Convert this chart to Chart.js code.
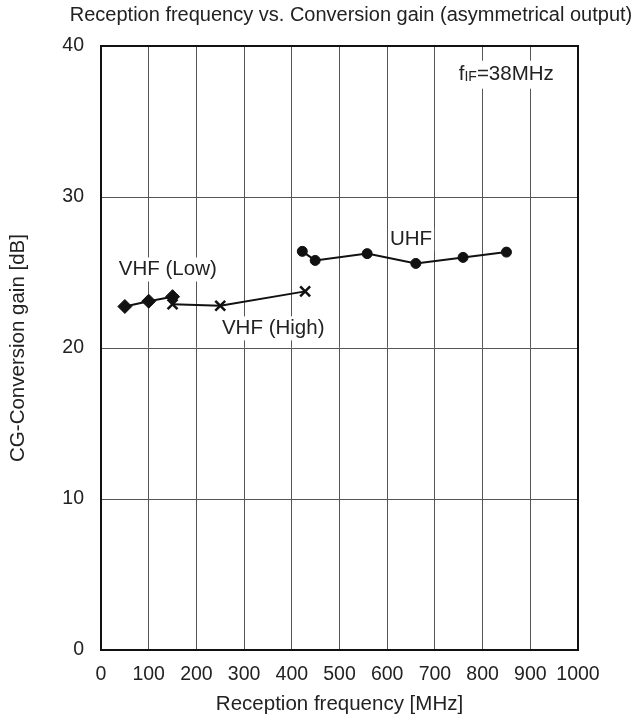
<!DOCTYPE html>
<html>
<head>
<meta charset="utf-8">
<script src="https://cdn.jsdelivr.net/npm/chart.js@4"></script>
<style>
  html, body { margin: 0; padding: 0; background: #fff; }
  #wrap { width: 640px; height: 721px; }
</style>
</head>
<body>
<div id="wrap"><canvas id="gainChart"></canvas></div>
<script>
// reception frequency [MHz] and conversion gain [dB]
const vhfLowFreq = [50, 100, 150];
const vhfLowGain = [22.75, 23.1, 23.4];
const vhfHighFreq = [150, 250, 428];
const vhfHighGain = [22.9, 22.8, 23.75];
const uhfFreq = [422, 449, 558, 660, 759, 850];
const uhfGain = [26.4, 25.8, 26.25, 25.6, 26.0, 26.35];

const xTicks = [0, 100, 200, 300, 400, 500, 600, 700, 800, 900, 1000];
const yTicks = [0, 10, 20, 30, 40];

const FONT = "'Liberation Sans', Arial, sans-serif";
const INK = "#222";
const TXT = 20.5;

function pts(xs, ys) {
    return xs.map((x, i) => ({ x: x, y: ys[i] }));
}

function series(label, xs, ys, style, radius) {
    return {
        label: label,
        data: pts(xs, ys),
        borderColor: "#111",
        backgroundColor: "#111",
        borderWidth: 2,
        pointStyle: style,
        pointRadius: radius,
        pointBorderWidth: style === "crossRot" ? 2.5 : 1,
        pointBorderColor: "#111",
        pointBackgroundColor: "#111",
        tension: 0
    };
}

// texts inside the plot, placed in data units
const notes = [
    { text: "VHF (Low)", x: 140, y: 25.2 },
    { text: "VHF (High)", x: 361, y: 21.3 },
    { text: "UHF", x: 650, y: 27.2 }
];

const textPlugin = {
    id: "texts",
    afterDatasetsDraw(chart) {
        const c = chart.ctx;
        const xs = chart.scales.x, ys = chart.scales.y;
        c.save();
        c.font = TXT + "px " + FONT;
        c.textAlign = "center";
        c.textBaseline = "middle";
        notes.forEach(n => {
            const px = xs.getPixelForValue(n.x), py = ys.getPixelForValue(n.y);
            const w = c.measureText(n.text).width;
            c.fillStyle = "#fff";
            c.fillRect(px - w / 2 - 2, py - 12, w + 4, 24);
            c.fillStyle = INK;
            c.fillText(n.text, px, py);
        });

        // f_IF = 38MHz, with small-caps subscript
        let px = xs.getPixelForValue(750), py = ys.getPixelForValue(38.1);
        c.textAlign = "left";
        c.fillStyle = "#fff";
        c.fillRect(px - 4, py - 14, 108, 28);
        c.fillStyle = INK;
        c.font = TXT + "px " + FONT;
        c.fillText("f", px, py);
        px += c.measureText("f").width;
        c.font = "14px " + FONT;
        c.fillText("IF", px, py + 2);
        px += c.measureText("IF").width;
        c.font = TXT + "px " + FONT;
        c.fillText("=38MHz", px, py);
        c.restore();
    },
    afterDraw(chart) {
        const c = chart.ctx;
        c.save();
        c.font = "20px " + FONT;
        c.fillStyle = INK;
        c.textAlign = "center";
        c.textBaseline = "middle";
        c.fillText("Reception frequency vs. Conversion gain (asymmetrical output)", 351, 15);
        c.restore();
    }
};

new Chart(document.getElementById("gainChart"), {
    type: "line",
    data: {
        datasets: [
            series("VHF (Low)", vhfLowFreq, vhfLowGain, "rectRot", 7),
            series("VHF (High)", vhfHighFreq, vhfHighGain, "crossRot", 7),
            series("UHF", uhfFreq, uhfGain, "circle", 5)
        ]
    },
    options: {
        responsive: true,
        maintainAspectRatio: false,
        animation: false,
        layout: { padding: { top: 46, right: 62, bottom: 0, left: 0 } },
        plugins: {
            legend: { display: false },
            tooltip: { enabled: false }
        },
        scales: {
            x: {
                type: "linear",
                min: 0,
                max: 1000,
                afterBuildTicks: s => { s.ticks = xTicks.map(v => ({ value: v })); },
                afterFit: s => { s.height = 71; },
                grid: { color: "#555", lineWidth: 1, drawTicks: false },
                border: { color: "#111", width: 2 },
                ticks: {
                    color: INK,
                    font: { family: FONT, size: 19.5 },
                    padding: 13,
                    maxRotation: 0,
                    autoSkip: false,
                    callback: v => String(v)
                },
                title: {
                    display: true,
                    text: "Reception frequency [MHz]",
                    color: INK,
                    font: { family: FONT, size: TXT },
                    padding: { top: 0, bottom: 4 }
                }
            },
            y: {
                type: "linear",
                min: 0,
                max: 40,
                afterBuildTicks: s => { s.ticks = yTicks.map(v => ({ value: v })); },
                afterFit: s => { s.width = 101; },
                grid: { color: "#555", lineWidth: 1, drawTicks: false },
                border: { color: "#111", width: 2 },
                ticks: { color: INK, font: { family: FONT, size: 19.5 }, padding: 17, callback: v => String(v) },
                title: {
                    display: true,
                    text: "CG-Conversion gain [dB]",
                    color: INK,
                    font: { family: FONT, size: TXT },
                    padding: { top: 6, bottom: 0 }
                }
            }
        }
    },
    plugins: [textPlugin, {
        id: "frame",
        afterDatasetsDraw(chart) {
            const a = chart.chartArea, c = chart.ctx;
            c.save();
            c.strokeStyle = "#111";
            c.lineWidth = 2;
            c.strokeRect(a.left, a.top, a.right - a.left, a.bottom - a.top);
            c.restore();
        }
    }]
});
</script>
</body>
</html>
